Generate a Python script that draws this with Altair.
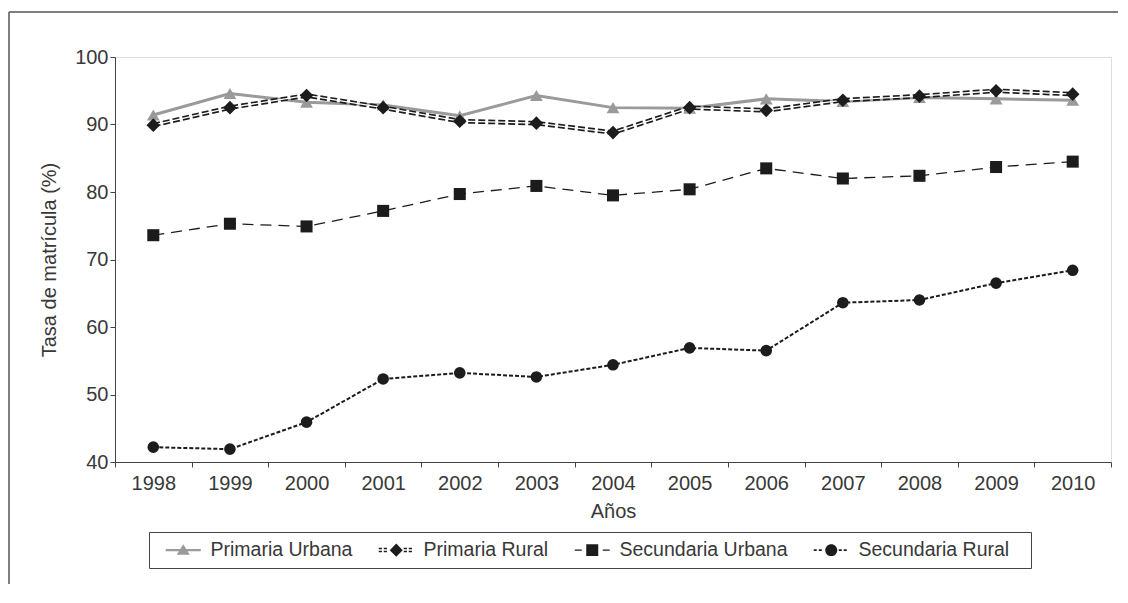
import altair as alt
import pandas as pd

years = [1998, 1999, 2000, 2001, 2002, 2003, 2004, 2005, 2006, 2007, 2008, 2009, 2010]
series_names = ["Primaria Urbana", "Primaria Rural", "Secundaria Urbana", "Secundaria Rural"]
primaria_urbana = [91.4, 94.6, 93.3, 92.9, 91.3, 94.3, 92.5, 92.4, 93.8, 93.4, 94.0, 93.8, 93.6]
primaria_rural = [89.9, 92.5, 94.3, 92.5, 90.5, 90.2, 88.8, 92.5, 92.1, 93.6, 94.2, 95.0, 94.5]
secundaria_urbana = [73.6, 75.3, 74.9, 77.2, 79.7, 80.9, 79.5, 80.4, 83.5, 82.0, 82.4, 83.7, 84.5]
secundaria_rural = [42.2, 41.9, 45.9, 52.3, 53.2, 52.6, 54.4, 56.9, 56.5, 63.6, 64.0, 66.5, 68.4]

values_by_series = [primaria_urbana, primaria_rural, secundaria_urbana, secundaria_rural]
rows = []
for name, vals in zip(series_names, values_by_series):
    for yr, v in zip(years, vals):
        rows.append({"year": str(yr), "value": v, "series": name})
df = pd.DataFrame(rows)

FONT = "Liberation Sans"
TXT = "#383838"
AX = "#444444"
GRAY = "#9a9a9a"
BLACK = "#1c1c1c"

# ---- legend symbol paths (px relative to symbol centre, scaled to unit) ----
U = 7.0
def f(v):
    return f"{v / U:.3f}"
def rect(x0, x1, y0, y1):
    return f"M{f(x0)},{f(y0)}H{f(x1)}V{f(y1)}H{f(x0)}Z"
X0, X1 = -1.0, 34.0
MX = (X0 + X1) / 2
def dashes(length, gap, y0, y1, skip):
    out = ""
    x = X0
    while x < X1:
        x1 = min(x + length, X1)
        if abs((x + x1) / 2 - MX) > skip:
            out += rect(x, x1, y0, y1)
        x += length + gap
    return out

p_urb = rect(X0, X1, -1.2, 1.2) + f"M{f(MX)},{f(-6)}L{f(MX+6.5)},{f(4.5)}L{f(MX-6.5)},{f(4.5)}Z"
p_rur = dashes(3.2, 1.8, -2.4, -0.9, 8) + dashes(3.2, 1.8, 0.7, 2.2, 8) + \
    f"M{f(MX)},{f(-6.5)}L{f(MX+6.5)},0L{f(MX)},{f(6.5)}L{f(MX-6.5)},0Z"
p_surb = rect(X0, X0 + 7, -0.7, 0.7) + rect(X1 - 7, X1, -0.7, 0.7) + rect(MX - 6, MX + 6, -6, 6)
p_srur = dashes(3, 2, -0.9, 0.9, 7.5) + \
    f"M{f(MX-6)},0A{f(6)},{f(6)} 0 1,0 {f(MX+6)},0A{f(6)},{f(6)} 0 1,0 {f(MX-6)},0Z"
legend_paths = [p_urb, p_rur, p_surb, p_srur]

x_enc = alt.X(
    "year:O",
    scale=alt.Scale(type="band", paddingInner=0, paddingOuter=0),
    axis=alt.Axis(
        title="Años", tickBand="extent", labelAngle=0, tickSize=5, tickColor=AX,
        domainColor=AX, labelFont=FONT, labelFontSize=20, labelColor=TXT,
        labelPadding=6, titleFont=FONT, titleFontSize=20, titleFontWeight="normal",
        titleColor=TXT, titlePadding=8,
    ),
)
y_enc = alt.Y(
    "value:Q",
    scale=alt.Scale(domain=[40, 100], nice=False, zero=False),
    axis=alt.Axis(
        title="Tasa de matrícula (%)", values=[40, 50, 60, 70, 80, 90, 100], grid=False,
        tickSize=5, tickColor=AX, domainColor=AX, labelFont=FONT, labelFontSize=20,
        labelColor=TXT, labelPadding=2, titleFont=FONT, titleFontSize=20,
        titleFontWeight="normal", titleColor=TXT, titlePadding=15,
    ),
)

base = alt.Chart(df).encode(x=x_enc, y=y_enc)

def sel(name):
    return base.transform_filter(alt.datum.series == name)

l_surb = sel("Secundaria Urbana").mark_line(color=BLACK, strokeWidth=1.3, strokeDash=[11, 7])
l_srur = sel("Secundaria Rural").mark_line(color=BLACK, strokeWidth=2, strokeDash=[4, 2])
l_purb = sel("Primaria Urbana").mark_line(color=GRAY, strokeWidth=3)
l_prur = sel("Primaria Rural").mark_line(color=BLACK, strokeWidth=4.6, strokeDash=[7, 3])
l_prur_w = sel("Primaria Rural").mark_line(color="white", strokeWidth=1.3)

m_purb = sel("Primaria Urbana").mark_point(shape="triangle-up", filled=True, color=GRAY, size=165, opacity=1)
m_prur = sel("Primaria Rural").mark_point(shape="diamond", filled=True, color=BLACK, size=185, opacity=1)
m_surb = sel("Secundaria Urbana").mark_point(shape="square", filled=True, color=BLACK, size=145, opacity=1)
m_srur = sel("Secundaria Rural").mark_point(shape="circle", filled=True, color=BLACK, size=135, opacity=1)

leg = alt.Legend(
    title="\u00a0", titleOrient="right", titleFontSize=4, titlePadding=14,
    orient="none", legendX=34, legendY=475, direction="horizontal", columns=4,
    strokeColor=AX, fillColor="white", padding=8, symbolSize=196, symbolStrokeWidth=0,
    symbolOpacity=1, labelFont=FONT, labelFontSize=19.5, labelColor=TXT, labelOffset=34,
    columnPadding=17, labelLimit=400,
)
legend_layer = base.mark_point(filled=True, opacity=0).encode(
    shape=alt.Shape("series:N", scale=alt.Scale(domain=series_names, range=legend_paths), legend=leg),
    color=alt.Color("series:N", scale=alt.Scale(domain=series_names, range=[GRAY, BLACK, BLACK, BLACK]), legend=leg),
)

# outer frame of the figure (only its top and left edges fall inside the page)
one = alt.Data(values=[{"k": 1}])
frame_left = alt.Chart(one).mark_rule(color="#555555", strokeWidth=1.5).encode(
    x=alt.value(-106), x2=alt.value(-106), y=alt.value(-45), y2=alt.value(527))
frame_top = alt.Chart(one).mark_rule(color="#555555", strokeWidth=1.5).encode(
    x=alt.value(-106), x2=alt.value(1003), y=alt.value(-45), y2=alt.value(-45))

chart = alt.layer(
    frame_left, frame_top,
    l_surb, l_srur, l_purb, l_prur, l_prur_w,
    m_purb, m_prur, m_surb, m_srur,
    legend_layer,
).properties(
    width=996, height=405,
    autosize=alt.AutoSizeParams(type="none"),
    padding={"left": 107, "top": 49, "right": 9, "bottom": 122},
).configure_view(stroke=AX, strokeWidth=1.2).configure(background="white")

chart.save("out.html", embed_options={"renderer": "svg", "actions": False})
